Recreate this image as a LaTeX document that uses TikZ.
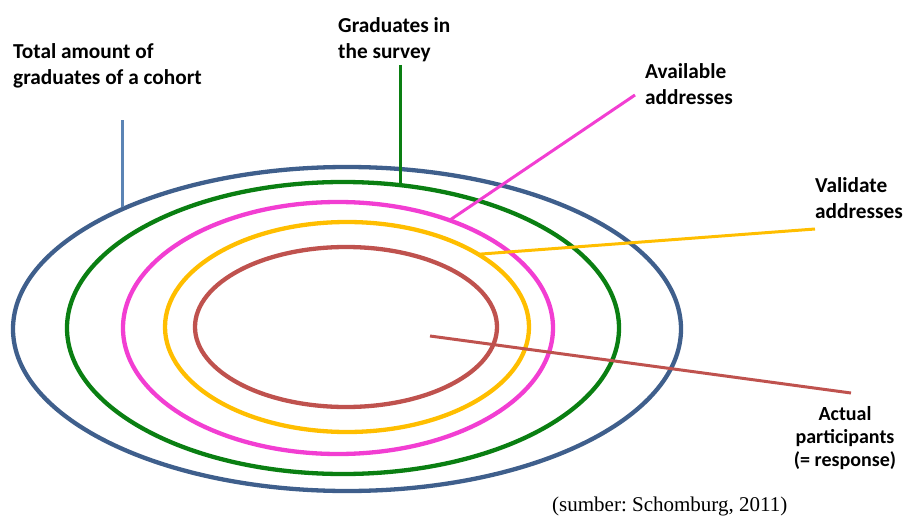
\documentclass[tikz,border=0pt]{standalone}
\usepackage{fontspec}
\setmainfont{Carlito}
\newfontfamily\srcfont{Liberation Serif}
\usetikzlibrary{shapes.geometric}
\frenchspacing
\definecolor{cblue}{HTML}{3F5F8C}
\definecolor{cbluel}{HTML}{5B84B5}
\definecolor{cgreen}{HTML}{0A7F12}
\definecolor{cpink}{HTML}{F23ED2}
\definecolor{cyellow}{HTML}{FFBE00}
\definecolor{cred}{HTML}{BF524E}
\tikzset{
  ring/.style={ellipse, draw, line width=4.3pt, inner sep=0pt, outer sep=0pt},
  lead/.style={line width=3pt},
  lbl/.style={font=\bfseries\fontsize{21.3}{26.5}\selectfont, align=left, inner sep=0pt, anchor=north west},
  lbls/.style={font=\bfseries\fontsize{20}{23}\selectfont, align=center, inner sep=0pt, anchor=north},
}
\begin{document}
\begin{tikzpicture}[x=1pt,y=-1pt]
\useasboundingbox (0,0) rectangle (905,519);
% rings
\node[ring, cblue,   minimum width=668pt, minimum height=324pt] (blue)   at (347,329) {};
\node[ring, cgreen,  minimum width=552pt, minimum height=292pt] (green)  at (343,328) {};
\node[ring, cpink,   minimum width=430pt, minimum height=252pt] (pink)   at (338,328) {};
\node[ring, cyellow, minimum width=364pt, minimum height=210pt] (yellow) at (347,327) {};
\node[ring, cred,    minimum width=302pt, minimum height=160pt] (red)    at (346,327) {};
% labels
\node[lbl] (tTotal) at (13,43) {Total amount of\\graduates of a cohort};
\node[lbl] (tGrad) at (338,17) {Graduates in\\the survey};
\node[lbl] (tAvail) at (645,63) {Available\\addresses};
\node[lbl] (tValid) at (815,177) {Validate\\addresses};
\node[lbls] (tActual) at (845,406) {Actual\\participants\\(= response)};
\node[font=\srcfont\fontsize{21}{24}\selectfont, inner sep=0pt, anchor=base west] (tSrc) at (552,511) {(sumber: Schomburg, 2011)};
% leader ends
\coordinate (bTop) at (122,120);
\coordinate (gTop) at (400,65);
\coordinate (pTop) at (635,95);
\coordinate (yTop) at (815,229);
\coordinate (rIn) at (430,336);
\coordinate (rOut) at (851,393);
% leaders
\draw[lead, cbluel] (bTop) -- (bTop |- blue.151.9);
\draw[lead, cgreen] (gTop) -- (gTop |- green.68.3);
\draw[lead, cpink] (pTop) -- (pink.44.2);
\draw[lead, cyellow] (yTop) -- (yellow.29.7);
\draw[lead, cred] (rIn) -- (rOut);
\end{tikzpicture}
\end{document}
